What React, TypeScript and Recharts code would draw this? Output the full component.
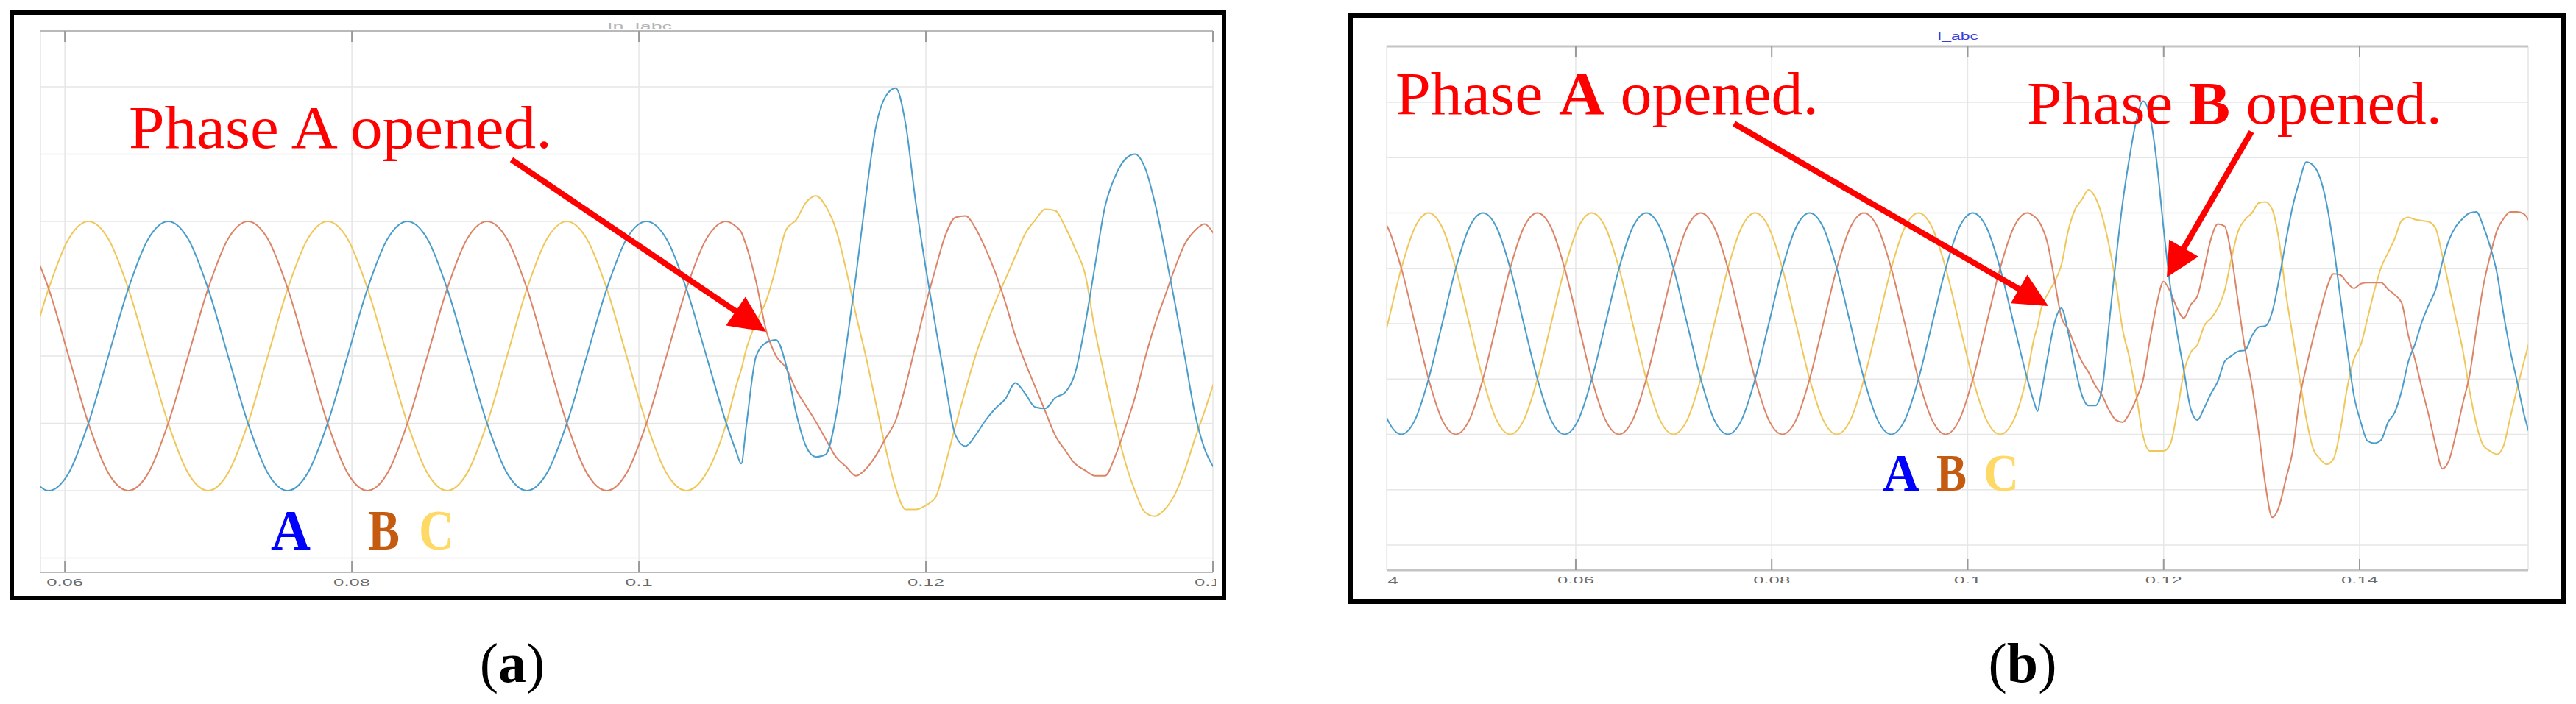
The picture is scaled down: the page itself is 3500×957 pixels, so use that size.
import React from 'react';
import { LineChart, Line, XAxis, YAxis, CartesianGrid } from 'recharts';

// panel (a): In_Iabc, phase A opened at ~0.107 s
const timeA = [
  0.05748, 0.05887, 0.06026, 0.06164, 0.06303, 0.06442, 0.06581,
  0.0672, 0.06859, 0.06998, 0.07137, 0.07276, 0.07414, 0.07553, 0.07692, 0.07831, 0.0797, 0.08109, 0.08248,
  0.08387, 0.08526, 0.08664, 0.08803, 0.08942, 0.09081, 0.0922, 0.09359, 0.09498, 0.09637, 0.09776, 0.09914,
  0.10053, 0.10192, 0.10331, 0.1047, 0.10609,
  0.10678, 0.10713, 0.10748, 0.10817, 0.10887, 0.10956, 0.11026, 0.11095, 0.11164, 0.11234,
  0.11303, 0.11373, 0.11442, 0.11512, 0.11581, 0.11651, 0.1172, 0.11789, 0.11859, 0.11928,
  0.11998, 0.12067, 0.12137, 0.12206, 0.12276, 0.12345, 0.12414, 0.12484, 0.12553, 0.12623,
  0.12692, 0.12762, 0.12831, 0.12901, 0.1297, 0.13039, 0.13109, 0.13178, 0.13248, 0.13317,
  0.13387, 0.13456, 0.13526, 0.13595, 0.13664, 0.13734, 0.13803, 0.13873, 0.13942, 0.14012,
  0.14081,
];
const iaA = [
  -0.87, -1, -0.87, -0.5, 0, 0.5, 0.87,
  1, 0.87, 0.5, 0, -0.5, -0.87, -1, -0.87, -0.5, 0, 0.5, 0.87,
  1, 0.87, 0.5, 0, -0.5, -0.87, -1, -0.87, -0.5, 0, 0.5, 0.87,
  1, 0.87, 0.5, 0, -0.5,
  -0.71, -0.8, -0.52, 0, 0.1, 0.12, -0.07, -0.42, -0.67, -0.75,
  -0.73, -0.45, 0.05, 0.59, 1.18, 1.7, 1.93, 1.99, 1.72, 1.15,
  0.66, 0.22, -0.21, -0.59, -0.67, -0.59, -0.48, -0.39, -0.32, -0.2,
  -0.28, -0.38, -0.39, -0.31, -0.27, -0.13, 0.23, 0.67, 1.11, 1.33,
  1.46, 1.5, 1.4, 1.14, 0.79, 0.4, 0, -0.42, -0.69, -0.84,
  -0.95,
];
const ibA = [
  0.87, 0.5, 0, -0.5, -0.87, -1, -0.87,
  -0.5, 0, 0.5, 0.87, 1, 0.87, 0.5, 0, -0.5, -0.87, -1, -0.87,
  -0.5, 0, 0.5, 0.87, 1, 0.87, 0.5, 0, -0.5, -0.87, -1, -0.87,
  -0.5, 0, 0.5, 0.87, 1,
  0.96, 0.92, 0.82, 0.55, 0.19, 0, -0.09, -0.25, -0.37, -0.49,
  -0.62, -0.75, -0.82, -0.89, -0.84, -0.74, -0.61, -0.48, -0.22, 0.08,
  0.38, 0.65, 0.9, 1.03, 1.04, 0.95, 0.8, 0.62, 0.4, 0.15,
  -0.05, -0.23, -0.41, -0.59, -0.7, -0.8, -0.85, -0.89, -0.89, -0.75,
  -0.54, -0.31, -0.02, 0.23, 0.44, 0.65, 0.83, 0.93, 0.98, 0.9,
  0.8,
];
const icA = [
  0, 0.5, 0.87, 1, 0.87, 0.5, 0,
  -0.5, -0.87, -1, -0.87, -0.5, 0, 0.5, 0.87, 1, 0.87, 0.5, 0,
  -0.5, -0.87, -1, -0.87, -0.5, 0, 0.5, 0.87, 1, 0.87, 0.5, 0,
  -0.5, -0.87, -1, -0.87, -0.5,
  -0.22, -0.1, 0.05, 0.25, 0.41, 0.66, 0.94, 1.01, 1.14, 1.19,
  1.11, 0.94, 0.65, 0.31, 0, -0.35, -0.69, -0.98, -1.14, -1.14,
  -1.11, -1.05, -0.8, -0.52, -0.25, 0, 0.21, 0.4, 0.57, 0.74,
  0.91, 1.01, 1.09, 1.08, 0.96, 0.8, 0.61, 0.19, -0.16, -0.49,
  -0.78, -1, -1.16, -1.19, -1.14, -1.03, -0.85, -0.62, -0.41, -0.18,
  0.05,
];

// panel (b): I_abc, phase A then phase B opened
const timeB = [
  0.03942, 0.04081, 0.0422, 0.04359, 0.04498, 0.04637, 0.04776, 0.04914,
  0.05053, 0.05192, 0.05331, 0.0547, 0.05609, 0.05748, 0.05887, 0.06026, 0.06164, 0.06303, 0.06442, 0.06581,
  0.0672, 0.06859, 0.06998, 0.07137, 0.07276, 0.07414, 0.07553, 0.07692, 0.07831, 0.0797, 0.08109, 0.08248,
  0.08387, 0.08526, 0.08664, 0.08803, 0.08942, 0.09081, 0.0922, 0.09359, 0.09498, 0.09637, 0.09776, 0.09914,
  0.10053, 0.10192, 0.10331, 0.1047, 0.10609,
  0.10678, 0.10713, 0.10748, 0.10817, 0.10887, 0.10956, 0.11026, 0.11095, 0.11164, 0.11234,
  0.11303, 0.11373, 0.11442, 0.11512, 0.11581, 0.11651, 0.1172, 0.11789, 0.11859, 0.11928,
  0.11998, 0.12067, 0.12137, 0.12206, 0.12276, 0.12345, 0.12414, 0.12484, 0.12553, 0.12623,
  0.12692, 0.12762, 0.12831, 0.12901, 0.1297, 0.13039, 0.13109, 0.13178, 0.13248, 0.13317,
  0.13387, 0.13456, 0.13526, 0.13595, 0.13664, 0.13734, 0.13803, 0.13873, 0.13942, 0.14012,
  0.14081, 0.14151, 0.1422, 0.1429, 0.14359, 0.14428, 0.14498, 0.14567, 0.14637, 0.14706,
  0.14776, 0.14845, 0.14914, 0.14984, 0.15053, 0.15123, 0.15192, 0.15262, 0.15331, 0.15401,
  0.1547, 0.15539, 0.15609, 0.15678, 0.15748,
];
const iaB = [
  -0.5, -0.87, -1, -0.87, -0.5, 0, 0.5, 0.87,
  1, 0.87, 0.5, 0, -0.5, -0.87, -1, -0.87, -0.5, 0, 0.5, 0.87,
  1, 0.87, 0.5, 0, -0.5, -0.87, -1, -0.87, -0.5, 0, 0.5, 0.87,
  1, 0.87, 0.5, 0, -0.5, -0.87, -1, -0.87, -0.5, 0, 0.5, 0.87,
  1, 0.87, 0.5, 0, -0.5,
  -0.71, -0.79, -0.64, -0.3, 0.01, 0.14, -0.08, -0.39, -0.64, -0.74,
  -0.74, -0.58, -0.01, 0.57, 1.09, 1.5, 1.83, 2.01, 1.88, 1.47,
  0.87, 0.34, -0.08, -0.42, -0.77, -0.87, -0.76, -0.63, -0.52, -0.34,
  -0.29, -0.25, -0.24, -0.11, -0.03, -0.02, 0.11, 0.4, 0.75, 1.06,
  1.29, 1.46, 1.43, 1.32, 1.08, 0.7, 0.24, -0.23, -0.65, -0.89,
  -1.06, -1.08, -1.05, -0.89, -0.8, -0.61, -0.34, -0.18, 0.02, 0.17,
  0.31, 0.56, 0.76, 0.88, 0.95, 1, 1.01, 0.88, 0.7, 0.46,
  0.08, -0.25, -0.53, -0.82, -1.03,
];
const ibB = [
  1, 0.87, 0.5, 0, -0.5, -0.87, -1, -0.87,
  -0.5, 0, 0.5, 0.87, 1, 0.87, 0.5, 0, -0.5, -0.87, -1, -0.87,
  -0.5, 0, 0.5, 0.87, 1, 0.87, 0.5, 0, -0.5, -0.87, -1, -0.87,
  -0.5, 0, 0.5, 0.87, 1, 0.87, 0.5, 0, -0.5, -0.87, -1, -0.87,
  -0.5, 0, 0.5, 0.87, 1,
  0.97, 0.94, 0.89, 0.72, 0.39, 0.06, -0.05, -0.2, -0.34, -0.44,
  -0.56, -0.65, -0.78, -0.87, -0.89, -0.81, -0.68, -0.51, -0.15, 0.17,
  0.38, 0.29, 0.14, 0.05, 0.17, 0.25, 0.5, 0.77, 0.9, 0.88,
  0.61, 0.18, -0.23, -0.56, -0.98, -1.46, -1.75, -1.65, -1.4, -1.15,
  -0.68, -0.39, -0.13, 0.1, 0.32, 0.45, 0.44, 0.37, 0.32, 0.36,
  0.37, 0.37, 0.37, 0.31, 0.26, 0.19, -0.11, -0.33, -0.59, -0.83,
  -1.1, -1.31, -1.23, -0.99, -0.72, -0.46, -0.05, 0.34, 0.61, 0.84,
  0.95, 1.01, 1.01, 0.99, 0.9,
];
const icB = [
  -0.5, 0, 0.5, 0.87, 1, 0.87, 0.5, 0,
  -0.5, -0.87, -1, -0.87, -0.5, 0, 0.5, 0.87, 1, 0.87, 0.5, 0,
  -0.5, -0.87, -1, -0.87, -0.5, 0, 0.5, 0.87, 1, 0.87, 0.5, 0,
  -0.5, -0.87, -1, -0.87, -0.5, 0, 0.5, 0.87, 1, 0.87, 0.5, 0,
  -0.5, -0.87, -1, -0.87, -0.45,
  -0.13, -0.02, 0.13, 0.27, 0.38, 0.53, 0.84, 1.03, 1.12, 1.21,
  1.14, 0.97, 0.71, 0.37, -0.05, -0.31, -0.64, -1.01, -1.15, -1.15,
  -1.15, -1.09, -0.8, -0.44, -0.26, -0.19, -0.02, 0.05, 0.14, 0.3,
  0.59, 0.84, 0.94, 1, 1.09, 1.1, 1.03, 0.75, 0.27, -0.11,
  -0.49, -0.86, -1.13, -1.22, -1.27, -1.22, -0.96, -0.58, -0.32, -0.19,
  0.05, 0.3, 0.51, 0.64, 0.77, 0.93, 0.96, 0.94, 0.93, 0.92,
  0.86, 0.61, 0.33, 0.04, -0.24, -0.61, -0.91, -1.1, -1.15, -1.18,
  -1.1, -0.84, -0.58, -0.34, -0.11,
];

const ticksA = [0.06, 0.08, 0.1, 0.12, 0.14];
const ticksB = [0.06, 0.08, 0.1, 0.12, 0.14];
const edgeTicksB = [0.04];
const gridA = [-1.5, -1, -0.5, 0, 0.5, 1, 1.5, 2];
const gridB = [-2, -1.5, -1, -0.5, 0, 0.5, 1, 1.5, 2];

const COLORS = { a: '#4a9dcb', b: '#dc8468', c: '#efc75a' };
const RED = '#ff0000';

function BottomTick({ x, y, payload, clipLeft, clipRight, mark }: any) {
  const label = String(payload.value);
  return (
    <g>
      {mark && <line x1={x} x2={x} y1={y - 15} y2={y} stroke="#9a9a9a" strokeWidth={2} />}
      <svg x={clipLeft} y={y} width={clipRight - clipLeft} height={30} overflow="hidden">
        <text
          x={x - clipLeft}
          y={18}
          textAnchor="middle"
          fontSize={12}
          fill="#6b6b6b"
          fontFamily="Liberation Sans"
          textLength={label.length * 12.5}
          lengthAdjust="spacingAndGlyphs"
        >
          {label}
        </text>
      </svg>
    </g>
  );
}

function TopTick({ x, y }: any) {
  return <line x1={x} x2={x} y1={y} y2={y + 15} stroke="#9a9a9a" strokeWidth={2} />;
}

function Panel({ time, ia, ib, ic, left, margin, xDomain, yDomain, ticks, edgeTicks, grid, axisStroke, axisWidth }: any) {
  const W = 1700;
  const H = 830;
  const rows = time.map((t: number, i: number) => ({ t, a: ia[i], b: ib[i], c: ic[i] }));
  const clipLeft = margin.left;
  const clipRight = W - margin.right + 4;
  return (
    <div style={{ position: 'absolute', left, top: 0 }}>
      <LineChart width={W} height={H} data={rows} margin={margin}>
        <CartesianGrid stroke="#e6e6e6" strokeWidth={1.5} />
        <XAxis
          type="number"
          dataKey="t"
          domain={xDomain}
          allowDataOverflow
          ticks={ticks}
          interval={0}
          height={1}
          tickSize={0}
          tickMargin={0}
          tickLine={false}
          axisLine={{ stroke: axisStroke, strokeWidth: axisWidth }}
          tick={(p: any) => <BottomTick {...p} clipLeft={clipLeft} clipRight={clipRight} mark />}
        />
        {edgeTicks && (
          <XAxis
            xAxisId="edge"
            type="number"
            dataKey="t"
            domain={xDomain}
            allowDataOverflow
            ticks={edgeTicks}
            interval={0}
            height={1}
            tickSize={0}
            tickMargin={0}
            tickLine={false}
            axisLine={false}
            tick={(p: any) => <BottomTick {...p} clipLeft={clipLeft} clipRight={clipRight} mark={false} />}
          />
        )}
        <XAxis
          xAxisId="top"
          orientation="top"
          type="number"
          dataKey="t"
          domain={xDomain}
          allowDataOverflow
          ticks={ticks}
          interval={0}
          height={1}
          tickSize={0}
          tickMargin={0}
          tickLine={false}
          axisLine={{ stroke: axisStroke, strokeWidth: axisWidth }}
          tick={(p: any) => <TopTick {...p} />}
        />
        <YAxis hide type="number" domain={yDomain} ticks={grid} allowDataOverflow />
        <Line type="monotone" dataKey="c" stroke={COLORS.c} strokeWidth={2} dot={false} isAnimationActive={false} />
        <Line type="monotone" dataKey="b" stroke={COLORS.b} strokeWidth={2} dot={false} isAnimationActive={false} />
        <Line type="monotone" dataKey="a" stroke={COLORS.a} strokeWidth={2} dot={false} isAnimationActive={false} />
      </LineChart>
    </div>
  );
}

function Arrow({ x1, y1, x2, y2, len, wid }: any) {
  const dx = x2 - x1;
  const dy = y2 - y1;
  const d = Math.hypot(dx, dy);
  const ux = dx / d;
  const uy = dy / d;
  const bx = x2 - ux * len;
  const by = y2 - uy * len;
  const px = (-uy * wid) / 2;
  const py = (ux * wid) / 2;
  return (
    <g>
      <line x1={x1} y1={y1} x2={bx + ux * 4} y2={by + uy * 4} stroke={RED} strokeWidth={8} />
      <polygon points={`${x2},${y2} ${bx + px},${by + py} ${bx - px},${by - py}`} fill={RED} />
    </g>
  );
}

const serif = 'Liberation Serif';

export default function App() {
  return (
    <div style={{ position: 'absolute', left: 0, top: 0, width: 3500, height: 957, background: '#fff', overflow: 'hidden' }}>
      <Panel
        time={timeA}
        ia={iaA}
        ib={ibA}
        ic={icA}
        left={0}
        margin={{ top: 41, left: 55, right: 52, bottom: 51 }}
        xDomain={[0.0583, 0.14]}
        yDomain={[-1.607, 2.415]}
        ticks={ticksA}
        grid={gridA}
        axisStroke="#a8a8a8"
        axisWidth={1.5}
      />
      <Panel
        time={timeB}
        ia={iaB}
        ib={ibB}
        ic={icB}
        left={1800}
        margin={{ top: 62, left: 84, right: 65, bottom: 53 }}
        xDomain={[0.0407, 0.1572]}
        yDomain={[-2.226, 2.505]}
        ticks={ticksB}
        edgeTicks={edgeTicksB}
        grid={gridB}
        axisStroke="#c4c4c4"
        axisWidth={3}
      />
      <div style={{ position: 'absolute', left: 13, top: 14, width: 1653, height: 802, border: '6px solid #000', boxSizing: 'border-box' }} />
      <div style={{ position: 'absolute', left: 1831, top: 18, width: 1656, height: 803, border: '7px solid #000', boxSizing: 'border-box' }} />
      <svg width={3500} height={957} style={{ position: 'absolute', left: 0, top: 0, pointerEvents: 'none' }}>
        <text x={869} y={40} textAnchor="middle" fontSize={13} fill="#b4b4b4" fontFamily="Liberation Sans" textLength={88} lengthAdjust="spacingAndGlyphs">
          In_Iabc
        </text>
        <text x={2660} y={54} textAnchor="middle" fontSize={14} fill="#3b3be0" fontFamily="Liberation Sans" textLength={56} lengthAdjust="spacingAndGlyphs">
          I_abc
        </text>

        <text x={175} y={201} fontSize={82} fill={RED} fontFamily={serif} textLength={575} lengthAdjust="spacingAndGlyphs">
          Phase A opened.
        </text>
        <Arrow x1={695} y1={217} x2={1041} y2={451} len={50} wid={47} />

        <text x={1896} y={155} fontSize={82} fill={RED} fontFamily={serif} textLength={575} lengthAdjust="spacingAndGlyphs">
          Phase <tspan fontWeight="bold">A</tspan> opened.
        </text>
        <text x={2754} y={168} fontSize={82} fill={RED} fontFamily={serif} textLength={564} lengthAdjust="spacingAndGlyphs">
          Phase <tspan fontWeight="bold">B</tspan> opened.
        </text>
        <Arrow x1={2356} y1={168} x2={2783} y2={416} len={46} wid={45} />
        <Arrow x1={3059} y1={179} x2={2944} y2={377} len={46} wid={46} />

        <g fontFamily={serif} fontWeight="bold">
          <text x={368} y={747} fontSize={78} fill="#0000ff" textLength={54} lengthAdjust="spacingAndGlyphs">A</text>
          <text x={500} y={747} fontSize={78} fill="#c55a11" textLength={43} lengthAdjust="spacingAndGlyphs">B</text>
          <text x={569} y={747} fontSize={78} fill="#ffd966" textLength={48} lengthAdjust="spacingAndGlyphs">C</text>
          <text x={2558} y={667} fontSize={72} fill="#0000ff" textLength={50} lengthAdjust="spacingAndGlyphs">A</text>
          <text x={2631} y={667} fontSize={72} fill="#c55a11" textLength={41} lengthAdjust="spacingAndGlyphs">B</text>
          <text x={2695} y={667} fontSize={72} fill="#ffd966" textLength={48} lengthAdjust="spacingAndGlyphs">C</text>
        </g>

        <text x={696} y={927} textAnchor="middle" fontSize={76} fill="#000" fontFamily={serif}>
          (<tspan fontWeight="bold">a</tspan>)
        </text>
        <text x={2748} y={927} textAnchor="middle" fontSize={76} fill="#000" fontFamily={serif}>
          (<tspan fontWeight="bold">b</tspan>)
        </text>
      </svg>
    </div>
  );
}
